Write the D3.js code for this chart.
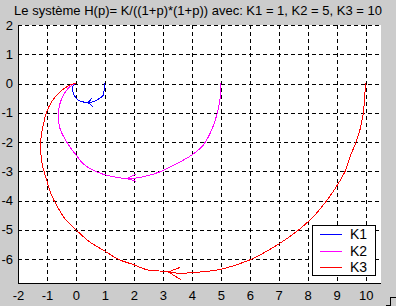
<!DOCTYPE html>
<html lang="fr">
    <head>
        <meta charset="utf-8">
        <title>Nyquist H(p)</title>
        <script type="text/javascript" src="https://cdn.jsdelivr.net/npm/d3@7"></script>
        <style type="text/css">
            body { margin: 0; background: #cccccc; }
            text { font-family: "Liberation Sans", Arial, sans-serif; fill: #000; }
        </style>
    </head>
    <body>
        <script type="text/javascript">
            var k1Re = [1, 0.97, 0.94, 0.80, 0.66, 0.43, 0.25, 0.10, 0.02, -0.09, -0.11, -0.05, 0];
            var k1Im = [0, -0.23, -0.40, -0.52, -0.60, -0.66, -0.63, -0.58, -0.51, -0.34, -0.12, -0.02, 0];

            var k2Re = [5, 4.97, 4.86, 4.68, 4.39, 3.99, 3.48, 2.90, 2.32, 1.86, 1.29, 0.71, 0.28, 0.0, -0.32, -0.55, -0.61, -0.61, -0.49, -0.32, -0.15, 0];
            var k2Im = [0, -0.57, -1.08, -1.6, -2.11, -2.45, -2.74, -3.02, -3.19, -3.25, -3.19, -3.02, -2.77, -2.44, -2.0, -1.54, -1.2, -0.97, -0.51, -0.23, -0.06, 0];

            var k3Re = [10, 9.95, 9.92, 9.80, 9.67, 9.46, 9.29, 9.0, 8.65, 8.19, 7.96, 7.71, 6.98, 6.0, 4.97, 3.94, 3.55, 3.07, 2.50, 1.98, 1.46, 1.0, 0.48, 0.02, -0.38, -0.67, -0.84, -1.01, -1.18, -1.22, -1.13, -1.01, -0.84, -0.61, -0.38, -0.15, 0];
            var k3Im = [0, -0.68, -1.0, -1.6, -2.0, -2.51, -3.0, -3.51, -4.01, -4.56, -4.77, -4.99, -5.5, -6.03, -6.36, -6.47, -6.49, -6.42, -6.38, -6.19, -6.01, -5.73, -5.42, -5.02, -4.62, -4.16, -3.82, -3.31, -2.68, -2.0, -1.43, -0.97, -0.63, -0.34, -0.15, -0.03, 0];

            // arrow heads: tip, then the two arm ends
            var k1Arrow = [[0.42, -0.66], [0.54, -0.51], [0.58, -0.78]];
            var k2Arrow = [[1.75, -3.25], [2.07, -3.10], [2.07, -3.34]];
            var k3Arrow = [[3.19, -6.44], [3.59, -6.29], [3.61, -6.70]];

            var names = ["K1", "K2", "K3"];
            var colors = ["#0000ff", "#ff00ff", "#ff0000"];
            var xTicks = [-2, -1, 0, 1, 2, 3, 4, 5, 6, 7, 8, 9, 10];
            var yTicks = [2, 1, 0, -1, -2, -3, -4, -5, -6];
            var title = "Le syst\u00e8me H(p)= K/((1+p)*(1+p)) avec: K1 = 1, K2 = 5, K3 = 10";

            var w = 396, h = 306;
            var mLeft = 18, mRight = 381, mTop = 25, mBottom = 283;

            var x = d3.scaleLinear().domain([-2, 10.53]).range([mLeft, mRight]);
            var y = d3.scaleLinear().domain([2, -6.82]).range([mTop, mBottom]);

            var svg = d3.select("body").append("svg")
                .attr("width", w)
                .attr("height", h)
                .style("display", "block");

            svg.append("rect")
                .attr("x", mLeft).attr("y", mTop)
                .attr("width", mRight - mLeft).attr("height", mBottom - mTop)
                .attr("fill", "#ffffff");

            // grid
            var grid = svg.append("g")
                .attr("stroke", "#000")
                .attr("stroke-dasharray", "4,3")
                .attr("shape-rendering", "crispEdges");
            grid.selectAll("line.vx")
                .data(xTicks.slice(1))
                .enter().append("line")
                .attr("x1", function(d) { return Math.round(x(d)) + 0.5; })
                .attr("x2", function(d) { return Math.round(x(d)) + 0.5; })
                .attr("y1", mTop).attr("y2", mBottom);
            grid.selectAll("line.hy")
                .data(yTicks)
                .enter().append("line")
                .attr("y1", function(d) { return Math.round(y(d)) + 0.5; })
                .attr("y2", function(d) { return Math.round(y(d)) + 0.5; })
                .attr("x1", mLeft).attr("x2", mRight);

            // axes (left and bottom only)
            var fmt = function(d) { return String(d); };
            var xAxis = d3.axisBottom(x).tickValues(xTicks).tickSize(0).tickPadding(8).tickFormat(fmt);
            var yAxis = d3.axisLeft(y).tickValues(yTicks).tickSize(0).tickPadding(6).tickFormat(fmt);

            var gx = svg.append("g").attr("transform", "translate(0," + mBottom + ")").call(xAxis);
            var gy = svg.append("g").attr("transform", "translate(" + mLeft + ",0)").call(yAxis);
            [gx, gy].forEach(function(g) {
                g.select(".domain").remove();
                g.selectAll("text")
                    .attr("font-size", 13)
                    .attr("font-family", "Liberation Sans, Arial, sans-serif")
                    .attr("fill", "#000");
            });
            gy.selectAll("text").attr("x", -5);

            svg.append("line")
                .attr("x1", mLeft + 0.5).attr("x2", mLeft + 0.5)
                .attr("y1", mTop).attr("y2", mBottom + 1)
                .attr("stroke", "#000").attr("shape-rendering", "crispEdges");
            svg.append("line")
                .attr("x1", mLeft).attr("x2", mRight)
                .attr("y1", mBottom + 0.5).attr("y2", mBottom + 0.5)
                .attr("stroke", "#000").attr("shape-rendering", "crispEdges");

            // curves
            var series = [
                { re: k1Re, im: k1Im, arrow: k1Arrow },
                { re: k2Re, im: k2Im, arrow: k2Arrow },
                { re: k3Re, im: k3Im, arrow: k3Arrow }
            ];
            var line = d3.line()
                .x(function(d) { return x(d[0]); })
                .y(function(d) { return y(d[1]); })
                .curve(d3.curveCatmullRom);

            series.forEach(function(s, i) {
                var pts = s.re.map(function(v, j) { return [v, s.im[j]]; });
                svg.append("path")
                    .attr("d", line(pts))
                    .attr("fill", "none")
                    .attr("stroke", colors[i])
                    .attr("stroke-width", 1)
                    .attr("shape-rendering", "crispEdges");
                var a = s.arrow;
                svg.append("path")
                    .attr("d", "M" + x(a[1][0]) + "," + y(a[1][1]) +
                               "L" + x(a[0][0]) + "," + y(a[0][1]) +
                               "L" + x(a[2][0]) + "," + y(a[2][1]))
                    .attr("fill", "none")
                    .attr("stroke", colors[i])
                    .attr("stroke-width", 1)
                    .attr("shape-rendering", "crispEdges");
            });

            // legend
            var lg = svg.append("g");
            lg.append("rect")
                .attr("x", 312.5).attr("y", 225.5)
                .attr("width", 63).attr("height", 50)
                .attr("fill", "#fff").attr("stroke", "#000")
                .attr("shape-rendering", "crispEdges");
            names.forEach(function(n, i) {
                var ly = 234 + i * 16.5;
                lg.append("line")
                    .attr("x1", 320).attr("x2", 342)
                    .attr("y1", Math.round(ly) + 0.5).attr("y2", Math.round(ly) + 0.5)
                    .attr("stroke", colors[i])
                    .attr("shape-rendering", "crispEdges");
                lg.append("text")
                    .attr("x", 350).attr("y", ly + 5)
                    .attr("font-size", 14)
                    .text(n);
            });

            // title
            svg.append("text")
                .attr("x", 198).attr("y", 15)
                .attr("text-anchor", "middle")
                .attr("font-size", 13)
                .text(title);

            // window resize grip
            svg.append("path")
                .attr("d", "M386,305.5H390.5V297.5H396")
                .attr("fill", "none").attr("stroke", "#000")
                .attr("shape-rendering", "crispEdges");
        </script>
    </body>
</html>
